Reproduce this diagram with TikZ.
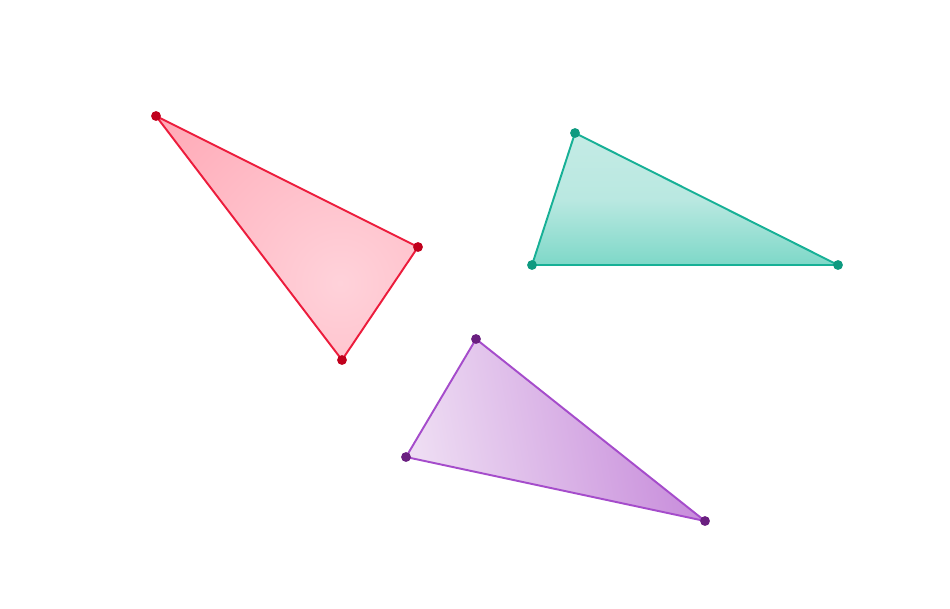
\documentclass[tikz,border=0pt]{standalone}
\definecolor{redline}{HTML}{EC1C3C}
\definecolor{reddot}{HTML}{C0001C}
\definecolor{redfill}{HTML}{FF94A4}
\definecolor{redlight}{HTML}{FFD2DA}
\definecolor{tealline}{HTML}{17B096}
\definecolor{tealdot}{HTML}{0E9A80}
\definecolor{teallight}{HTML}{C4EBE5}
\definecolor{tealdark}{HTML}{7ED8C8}
\definecolor{purpline}{HTML}{A54CCB}
\definecolor{purpdot}{HTML}{6A1F80}
\definecolor{purplight}{HTML}{EEDDF3}
\definecolor{purpdark}{HTML}{C689DA}
\tikzset{
  edge/.style={line width=0.55pt, line join=round},
  vertex/.style={circle, fill, inner sep=0pt, minimum size=2.8pt}
}
\begin{document}
\begin{tikzpicture}
  \useasboundingbox (0,0) rectangle (9.5,6.08);
  % red triangle
  \coordinate (ra) at (1.56,4.92);
  \coordinate (rb) at (4.18,3.61);
  \coordinate (rc) at (3.42,2.48);
  \begin{scope}
    \clip (ra) -- (rb) -- (rc) -- cycle;
    \shade[inner color=redlight, outer color=redfill] (3.4,3.25) circle (3.7);
  \end{scope}
  \draw[edge, redline] (ra) -- (rb) -- (rc) -- cycle;
  \node[vertex, reddot] (na) at (ra) {};
  \node[vertex, reddot] (nb) at (rb) {};
  \node[vertex, reddot] (nc) at (rc) {};
  % teal triangle
  \coordinate (ta) at (5.75,4.75);
  \coordinate (tb) at (5.32,3.43);
  \coordinate (tc) at (8.38,3.43);
  \shade[top color=teallight, bottom color=tealdark, middle color=teallight!85!tealdark]
    (ta) -- (tb) -- (tc) -- cycle;
  \draw[edge, tealline] (ta) -- (tb) -- (tc) -- cycle;
  \node[vertex, tealdot] (nta) at (ta) {};
  \node[vertex, tealdot] (ntb) at (tb) {};
  \node[vertex, tealdot] (ntc) at (tc) {};
  % purple triangle
  \coordinate (pa) at (4.76,2.69);
  \coordinate (pb) at (4.06,1.51);
  \coordinate (pc) at (7.05,0.87);
  \shade[left color=purplight, right color=purpdark, shading angle=100]
    (pa) -- (pb) -- (pc) -- cycle;
  \draw[edge, purpline] (pa) -- (pb) -- (pc) -- cycle;
  \node[vertex, purpdot] (npa) at (pa) {};
  \node[vertex, purpdot] (npb) at (pb) {};
  \node[vertex, purpdot] (npc) at (pc) {};
\end{tikzpicture}
\end{document}
